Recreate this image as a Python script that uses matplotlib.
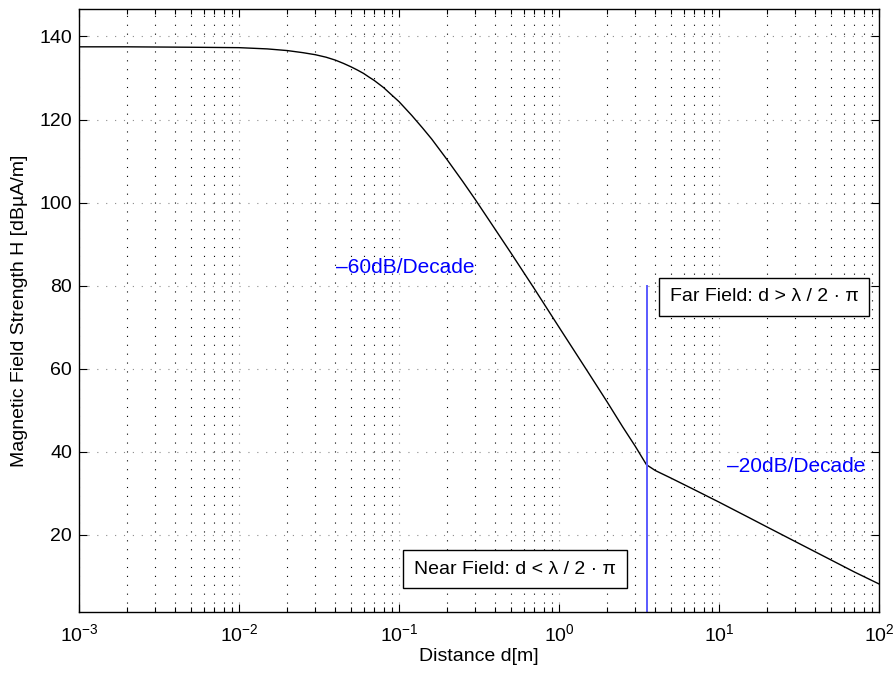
import matplotlib
matplotlib.use("Agg")
import matplotlib.pyplot as plt
from matplotlib.ticker import LogLocator, FixedLocator, NullFormatter

plt.rcParams['font.family'] = ['Liberation Sans', 'DejaVu Sans']
plt.rcParams['mathtext.fontset'] = 'custom'
plt.rcParams['mathtext.rm'] = 'Liberation Sans'
plt.rcParams['mathtext.it'] = 'Liberation Sans'
plt.rcParams['mathtext.default'] = 'regular'

# Data
distance_m = [0.001, 0.002, 0.005, 0.01, 0.015, 0.02, 0.025, 0.03, 0.035, 0.04,
              0.045, 0.05, 0.055, 0.06, 0.065, 0.07, 0.08, 0.09, 0.1, 0.12,
              0.14, 0.16, 0.2, 0.25, 0.3, 0.4, 0.5, 0.7, 1.0, 1.5,
              2.0, 2.5, 3.0, 3.52, 4.0, 5.0, 7.0, 10.0, 15.0, 20.0,
              30.0, 50.0, 70.0, 100.0]
field_dbuA = [137.5, 137.5, 137.4, 137.3, 137.0, 136.6, 136.1, 135.6, 135.0, 134.3,
              133.5, 132.7, 131.9, 131.1, 130.2, 129.4, 127.7, 125.9, 124.3, 121.0,
              118.0, 115.3, 110.3, 105.1, 100.7, 93.5, 87.9, 79.3, 70.0, 59.5,
              52.0, 46.0, 41.3, 36.9, 35.5, 33.7, 30.9, 27.9, 24.4, 21.9,
              18.4, 14.0, 11.1, 8.2]

boundary_x = 3.52      # lambda / 2*pi
boundary_top = 80
y_ticks = [20, 40, 60, 80, 100, 120, 140]
x_lim = (1e-3, 1e2)
y_lim = (1.45, 146.6)

fig = plt.figure(figsize=(8.96, 6.73), dpi=100)
ax = fig.add_axes([0.0882, 0.0906, 0.8929, 0.896])

ax.plot(distance_m, field_dbuA, color='black', lw=1.0)
ax.plot([boundary_x, boundary_x], [y_lim[0], boundary_top], color='#5a5aff', lw=1.4)

ax.set_xscale('log')
ax.set_xlim(*x_lim)
ax.set_ylim(*y_lim)
ax.yaxis.set_major_locator(FixedLocator(y_ticks))
ax.xaxis.set_major_locator(LogLocator(base=10, numticks=10))
ax.xaxis.set_minor_locator(LogLocator(base=10, subs=range(2, 10), numticks=20))
ax.xaxis.set_minor_formatter(NullFormatter())

ax.grid(True, which='major', color='0.55', lw=0.8, linestyle=(0, (1, 7)))
ax.grid(True, which='minor', axis='x', color='black', lw=0.8, linestyle=(0, (1, 7)))

ax.tick_params(which='both', direction='in', top=True, right=True, labelsize=14)
ax.tick_params(which='major', length=6, width=0.8)
ax.tick_params(which='minor', length=3.5, width=0.8)
ax.tick_params(axis='x', pad=8)
ax.tick_params(axis='y', pad=5)
for s in ax.spines.values():
    s.set_linewidth(1.0)

ax.set_xlabel('Distance d[m]', fontsize=14, labelpad=2)
ax.set_ylabel('Magnetic Field Strength H [dBµA/m]', fontsize=14, labelpad=8)

ax.text(0.109, 84.3, '\u201360dB/Decade', color='blue', fontsize=15, ha='center', va='center')
ax.text(30.3, 36.4, '\u201320dB/Decade', color='blue', fontsize=15, ha='center', va='center')
ax.text(19.1, 77.3, 'Far Field: d > \u03bb / 2 \u00b7 \u03c0', fontsize=14, ha='center', va='center',
        bbox=dict(boxstyle='square,pad=0.55', fc='white', ec='black', lw=1.0))
ax.text(0.531, 11.8, 'Near Field: d < \u03bb / 2 \u00b7 \u03c0', fontsize=14, ha='center', va='center',
        bbox=dict(boxstyle='square,pad=0.55', fc='white', ec='black', lw=1.0))

fig.savefig('out.png', dpi=100)
